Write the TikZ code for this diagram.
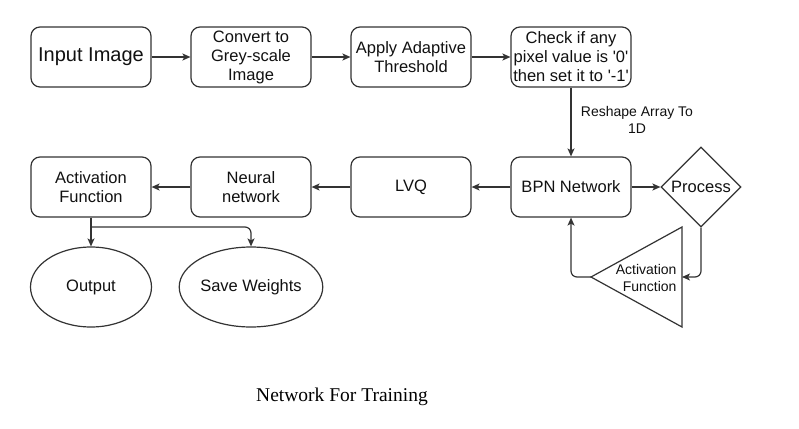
\documentclass[tikz,border=0pt]{standalone}
\usepackage{fontspec}
\setmainfont{Liberation Sans}
\newfontfamily\plainsans{Liberation Sans}
\newfontfamily\capfont{Liberation Serif}
\usetikzlibrary{shapes.geometric,arrows.meta}
\definecolor{linec}{HTML}{333333}
\definecolor{textc}{HTML}{111111}
\tikzset{
  fs/.style={font=\fontsize{16.5}{19}\selectfont},
  box/.style={draw=linec, line width=1.2pt, rounded corners=9pt, minimum width=120pt, minimum height=60pt, inner sep=0pt, align=center, text=textc, fs},
  ell/.style={draw=linec, line width=1.2pt, ellipse, minimum width=121pt, minimum height=80pt, inner sep=0pt, align=center, text=textc, fs},
  arr/.style={draw=linec, line width=1.2pt, -{Stealth[length=8pt,width=7pt,inset=2pt]}},
  ln/.style={draw=linec, line width=1.2pt},
  lbl/.style={font=\fontsize{14}{16.5}\selectfont, align=center, text=textc}
}
\begin{document}
\begin{tikzpicture}[x=1pt,y=-1pt]
\useasboundingbox (0,0) rectangle (799,428);
\fill[white] (0,0) rectangle (799,428);
% top row
\node[box, font=\fontsize{20}{23}\selectfont] (in) at (91,57) {Input Image};
\node[box] (grey) at (251,57) {Convert to\\Grey-scale\\Image};
\node[box] (thr) at (411,57) {Apply Adaptive\\Threshold};
\node[box, font=\plainsans\fontsize{16.5}{19}\selectfont] (chk) at (571,57) {Check if any\\pixel value is '0'\\then set it to '-1'};
% middle row
\node[box] (bpn) at (571,187) {BPN Network};
\node[box] (lvq) at (411,187) {LVQ};
\node[box] (nn) at (251,187) {Neural\\network};
\node[box] (af) at (91,187) {Activation\\Function};
% diamond
\node[draw=linec, line width=1.2pt, diamond, minimum width=80pt, minimum height=80pt, inner sep=0pt, text=textc, fs] (proc) at (701,187) {Process};
% triangle
\coordinate (tA) at (591,277);
\coordinate (tT) at (682,227);
\coordinate (tB) at (682,327);
\coordinate (tR) at (682,277);
\draw[ln, line join=miter] (tA) -- (tT) -- (tB) -- cycle;
\node[lbl, align=right, anchor=east] (tlab) at (680,278) {Activation\\Function};
% ellipses
\node[ell] (out) at (91,287) {Output};
\node[ell] (sw) at (251,287) {Save Weights};
% connectors
\draw[arr] (in) -- (grey);
\draw[arr] (grey) -- (thr);
\draw[arr] (thr) -- (chk);
\draw[arr] (chk) -- node[lbl, right=6pt, pos=0.47] {Reshape Array To\\1D} (bpn);
\draw[arr] (bpn) -- (proc);
\draw[arr] (bpn) -- (lvq);
\draw[arr] (lvq) -- (nn);
\draw[arr] (nn) -- (af);
\draw[arr, rounded corners=6pt] (proc.south) |- (tR);
\draw[arr, rounded corners=6pt] (tA) -| (bpn.south);
\coordinate (br) at (91,227);
\draw[arr] (af.south) -- (out.north);
\draw[arr, rounded corners=6pt] (br) -| (sw.north);
% caption
\node[font=\capfont\fontsize{19.5}{22}\selectfont, text=black] (cap) at (342,397) {Network For Training};
\end{tikzpicture}
\end{document}
